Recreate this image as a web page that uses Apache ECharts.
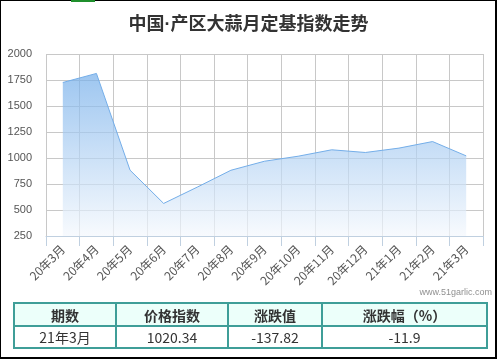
<!DOCTYPE html>
<html>
<head>
<meta charset="utf-8">
<script src="https://cdn.jsdelivr.net/npm/echarts@6/dist/echarts.min.js"></script>
<style>
  html, body { margin: 0; padding: 0; background: #fff; }
  #wrap { position: relative; width: 497px; height: 359px; overflow: hidden; }
  #chart { position: absolute; left: 0; top: 0; width: 497px; height: 359px; }
  #frame { position: absolute; left: 0; top: 0; width: 497px; height: 359px; box-sizing: border-box;
           border-top: 1px solid #000; border-left: 1px solid #000; border-right: 2px solid #000; border-bottom: 2px solid #000;
           pointer-events: none; }
  #greenbar { position: absolute; left: 71px; top: 0; width: 24px; height: 2px; background: #1f8f2c; }
  #tbl { position: absolute; left: 13px; top: 302px; width: 473px; border-collapse: collapse; table-layout: fixed;
         font-family: "Noto Sans CJK SC", "Liberation Sans", sans-serif; font-size: 14px; color: #333; }
  #tbl td, #tbl th { border: 2px solid #3f9e98; text-align: center; padding: 0; line-height: 18px; }
  #tbl th { background: #ecfffa; font-weight: bold; height: 21px; }
  #tbl td { background: #fff; height: 20px; }
</style>
</head>
<body>
<div id="wrap">
  <div id="chart"></div>
  <table id="tbl">
    <colgroup><col style="width:102px"><col style="width:112px"><col style="width:94px"><col style="width:165px"></colgroup>
    <tr><th id="h0"></th><th id="h1"></th><th id="h2"></th><th id="h3"></th></tr>
    <tr><td id="d0"></td><td id="d1"></td><td id="d2"></td><td id="d3"></td></tr>
  </table>
  <div id="frame"></div>
  <div id="greenbar"></div>
</div>
<script>
// ---- data ----
var titleText = '中国·产区大蒜月定基指数走势';
var categories = ['20年3月','20年4月','20年5月','20年6月','20年7月','20年8月','20年9月','20年10月','20年11月','20年12月','21年1月','21年2月','21年3月'];
var indexValues = [1726, 1813, 883, 563, 720, 882, 969, 1017, 1079, 1053, 1095, 1158.16, 1020.34];
var yTicks = [250, 500, 750, 1000, 1250, 1500, 1750, 2000];
var tableHeader = ['期数', '价格指数', '涨跌值', '涨跌幅（%）'];
var tableRow = ['21年3月', '1020.34', '-137.82', '-11.9'];
var creditText = 'www.51garlic.com';

// table text
tableHeader.forEach(function (t, i) { document.getElementById('h' + i).textContent = t; });
tableRow.forEach(function (t, i) { document.getElementById('d' + i).textContent = t; });

var chart = echarts.init(document.getElementById('chart'), null, { renderer: 'canvas' });
var option = {
  animation: false,
  backgroundColor: '#fff',
  title: {
    text: titleText,
    left: 'center',
    top: 11,
    textStyle: { fontFamily: '"Liberation Sans", "Noto Sans CJK SC", sans-serif', fontSize: 18, fontWeight: 'bold', color: '#333' }
  },
  graphic: [{
    type: 'text',
    right: 5,
    top: 288,
    style: { text: creditText, fontFamily: '"Liberation Sans", Arial, sans-serif', fontSize: 9, fill: '#909090' }
  }],
  grid: { left: 46, right: 14, top: 54, height: 182, containLabel: false },
  xAxis: {
    type: 'category',
    data: categories,
    boundaryGap: true,
    axisLine: { show: true, lineStyle: { color: '#C0D0E0', width: 1 } },
    axisTick: { show: true, length: 10, alignWithLabel: false, lineStyle: { color: '#C0D0E0' } },
    splitLine: { show: true, lineStyle: { color: '#C8C8C8', width: 1 } },
    axisLabel: {
      rotate: 45, interval: 0, margin: 11,
      fontFamily: '"Noto Sans CJK SC", sans-serif', fontSize: 12, color: '#555'
    }
  },
  yAxis: {
    type: 'value',
    min: yTicks[0],
    max: yTicks[yTicks.length - 1],
    interval: 250,
    axisLine: { show: false },
    axisTick: { show: false },
    splitLine: { show: true, lineStyle: { color: '#C8C8C8', width: 1 } },
    axisLabel: {
      margin: 14, fontFamily: '"Liberation Sans", Arial, sans-serif', fontSize: 11, color: '#555',
      formatter: function (v) { return String(v); }
    }
  },
  series: [{
    type: 'line',
    data: indexValues,
    showSymbol: false,
    symbol: 'none',
    lineStyle: { color: '#74aee9', width: 1 },
    areaStyle: {
      origin: 'start',
      color: new echarts.graphic.LinearGradient(0, 0, 0, 1, [
        { offset: 0, color: '#74aeea' },
        { offset: 1, color: '#f4f8fd' }
      ])
    }
  }]
};
chart.setOption(option);
</script>
</body>
</html>
